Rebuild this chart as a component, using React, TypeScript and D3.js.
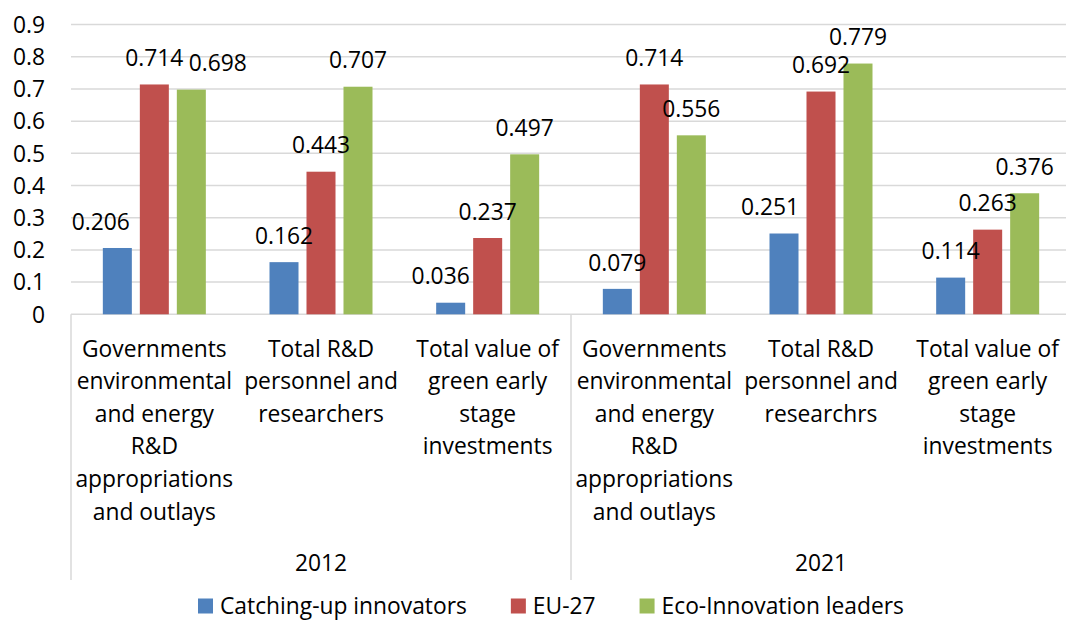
import React, { useEffect, useRef } from 'react'
import * as d3 from 'd3'

const width = 1066
const height = 623

// category labels, already broken into lines as in the original
const categoryLines: string[][] = [
  ['Governments', 'environmental', 'and energy', 'R&D', 'appropriations', 'and outlays'],
  ['Total R&D', 'personnel and', 'researchers'],
  ['Total value of', 'green early', 'stage', 'investments'],
  ['Governments', 'environmental', 'and energy', 'R&D', 'appropriations', 'and outlays'],
  ['Total R&D', 'personnel and', 'researchrs'],
  ['Total value of', 'green early', 'stage', 'investments'],
]
const years = ['2012', '2021']
const seriesNames = ['Catching-up innovators', 'EU-27', 'Eco-Innovation leaders']
const catchingUp = [0.206, 0.162, 0.036, 0.079, 0.251, 0.114]
const eu27 = [0.714, 0.443, 0.237, 0.714, 0.692, 0.263]
const ecoLeaders = [0.698, 0.707, 0.497, 0.556, 0.779, 0.376]
const colors = ['#4F81BD', '#C0504D', '#9BBB59']

// a few labels were dragged sideways in the source chart (series-category -> px)
const labelNudge: Record<string, number> = { '0-0': -16.5, '2-0': 26.5, '0-2': -10, '0-4': -14 }

const font = '"Open Sans", "Noto Sans", sans-serif'
const fontSize = 22.8
const textColor = '#000'
const gridColor = '#d9d9d9'

export default function App() {
  const svgRef = useRef<SVGSVGElement>(null)

  useEffect(() => {
    document.body.style.margin = '0'
    const svg = d3.select(svgRef.current)
    svg.selectAll('*').remove()

    const series = [catchingUp, eu27, ecoLeaders]
    const idx = categoryLines.map((_, i) => i)

    const x = d3.scaleBand<number>().domain(idx).range([71, 1071]).padding(0)
    const xs = d3.scaleBand<number>().domain([0, 1, 2]).range([-51.5, 51.5]).paddingInner(0.216).paddingOuter(0)
    const y = d3.scaleLinear().domain([0, 0.9]).range([314.3, 24.6])

    const g = svg.append('g').attr('font-family', font).attr('font-size', fontSize).attr('fill', textColor)

    // gridlines + y tick labels
    const ticks = y.ticks(9)
    g.selectAll('line.grid')
      .data(ticks)
      .enter()
      .append('line')
      .attr('x1', 71)
      .attr('x2', width)
      .attr('y1', (d) => y(d))
      .attr('y2', (d) => y(d))
      .attr('stroke', gridColor)
      .attr('stroke-width', 1.5)

    g.selectAll('text.ytick')
      .data(ticks)
      .enter()
      .append('text')
      .attr('x', 45)
      .attr('y', (d) => y(d))
      .attr('dy', '0.36em')
      .attr('text-anchor', 'end')
      .text((d) => String(+d.toFixed(1)))

    // category axis separators
    const seps = [x(0)!, x(3)!]
    g.selectAll('line.sep')
      .data(seps)
      .enter()
      .append('line')
      .attr('x1', (d) => d)
      .attr('x2', (d) => d)
      .attr('y1', y(0))
      .attr('y2', 580)
      .attr('stroke', gridColor)
      .attr('stroke-width', 1.5)

    // bars
    series.forEach((vals, s) => {
      g.selectAll(`rect.s${s}`)
        .data(vals)
        .enter()
        .append('rect')
        .attr('x', (_, i) => x(i)! + x.bandwidth() / 2 + xs(s)!)
        .attr('width', xs.bandwidth())
        .attr('y', (d) => y(d))
        .attr('height', (d) => y(0) - y(d))
        .attr('fill', colors[s])
    })

    // data labels
    series.forEach((vals, s) => {
      g.selectAll(`text.l${s}`)
        .data(vals)
        .enter()
        .append('text')
        .attr('x', (_, i) => x(i)! + x.bandwidth() / 2 + xs(s)! + xs.bandwidth() / 2 + (labelNudge[`${s}-${i}`] || 0))
        .attr('y', (d) => y(d) - 26.5)
        .attr('dy', '0.36em')
        .attr('text-anchor', 'middle')
        .text((d) => d.toFixed(3))
    })

    // category labels
    categoryLines.forEach((lines, i) => {
      g.append('text')
        .attr('text-anchor', 'middle')
        .selectAll('tspan')
        .data(lines)
        .enter()
        .append('tspan')
        .attr('x', x(i)! + x.bandwidth() / 2)
        .attr('y', (_, k) => 348.3 + k * 32.6)
        .attr('dy', '0.36em')
        .text((d) => d)
    })

    // year labels
    g.selectAll('text.year')
      .data(years)
      .enter()
      .append('text')
      .attr('x', (_, k) => x(k * 3)! + x.bandwidth() * 1.5)
      .attr('y', 562.5)
      .attr('dy', '0.36em')
      .attr('text-anchor', 'middle')
      .text((d) => d)

    // legend
    const legend = g.append('g').attr('transform', 'translate(0,606)')
    let lx = 198
    seriesNames.forEach((name, s) => {
      legend.append('rect').attr('x', lx).attr('y', -7.5).attr('width', 15).attr('height', 15).attr('fill', colors[s])
      const t = legend
        .append('text')
        .attr('x', lx + 22)
        .attr('y', 0)
        .attr('dy', '0.36em')
        .text(name)
      const w = (t.node() as SVGTextElement).getComputedTextLength()
      lx += 22 + w + 44
    })
  }, [])

  return <svg ref={svgRef} width={width} height={height} style={{ display: 'block', background: '#fff' }} />
}
